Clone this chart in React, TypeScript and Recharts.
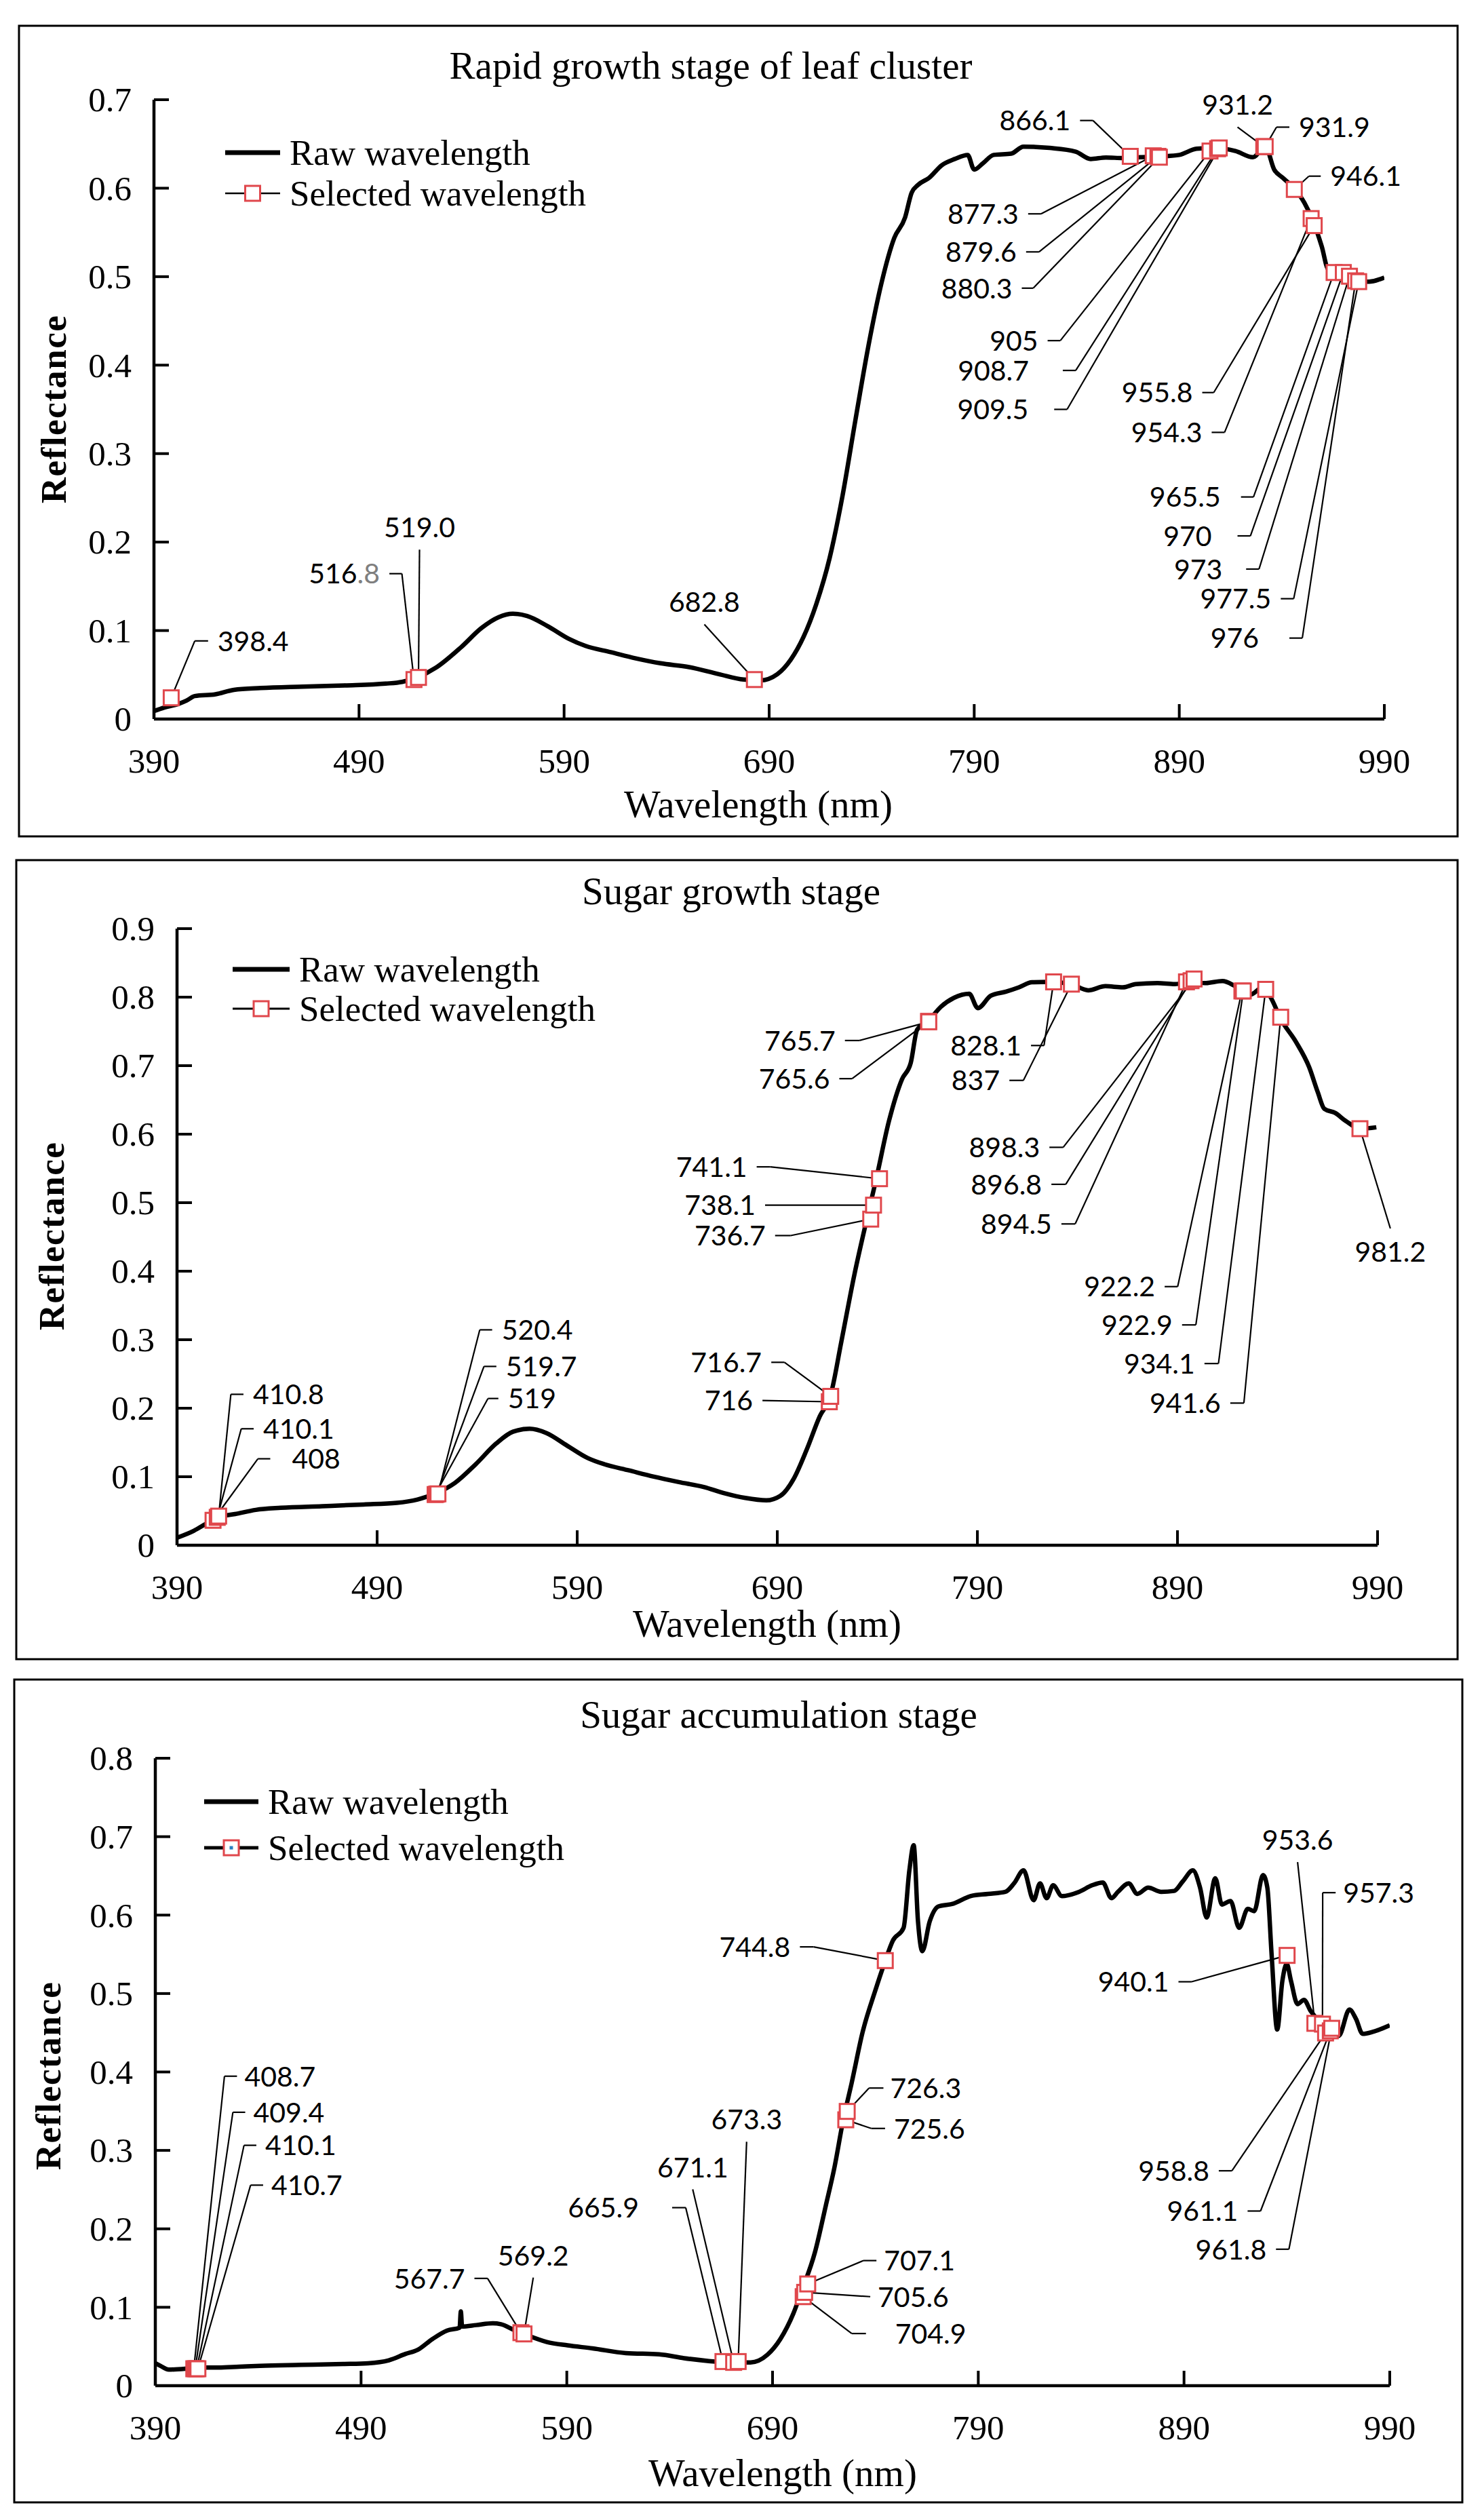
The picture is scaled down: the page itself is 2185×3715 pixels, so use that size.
import React from 'react';
import { ComposedChart, Line, XAxis, YAxis, ReferenceLine, ReferenceDot } from 'recharts';

type Pt = [number, number];
type Sel = [string, number];
type Callout = {
  label: string;
  ex: number;
  ey: number;
  sx?: number;
  pos: 'left' | 'right' | 'top' | 'bottom';
  gap?: number;
  dim?: number;
};

const PAGE_W = 2185;
const PAGE_H = 3715;
const X_AXIS_H = 100;
const Y_AXIS_W = 100;
const RED = '#e0474c';
const SERIF = "'Liberation Serif', 'DejaVu Serif', serif";
const SANS = "Lato, 'Liberation Sans', sans-serif";

const wavelengthTicks = [390, 490, 590, 690, 790, 890, 990];
const ticks07 = [0, 0.1, 0.2, 0.3, 0.4, 0.5, 0.6, 0.7];
const ticks09 = [0, 0.1, 0.2, 0.3, 0.4, 0.5, 0.6, 0.7, 0.8, 0.9];
const ticks08 = [0, 0.1, 0.2, 0.3, 0.4, 0.5, 0.6, 0.7, 0.8];

// ---- Rapid growth stage of leaf cluster ----
const raw1: Pt[] = [
  [390, 0.009], [395, 0.013], [401.8, 0.017], [406, 0.021], [409.9, 0.026], [420, 0.028],
  [429, 0.033], [442, 0.035], [462.6, 0.0366], [483, 0.038], [503, 0.04], [511, 0.042],
  [518.4, 0.047], [527.5, 0.058], [539.7, 0.081], [549.8, 0.103], [558, 0.115], [565, 0.119],
  [572, 0.1164], [582, 0.105], [592.4, 0.0906], [600.5, 0.0826], [612.7, 0.0756], [625, 0.0685],
  [637, 0.063], [651, 0.0587], [665.5, 0.0507], [677.6, 0.0446], [685.7, 0.0437], [694, 0.0507],
  [700.5, 0.067], [706.8, 0.093], [713, 0.13], [719.5, 0.182], [725.8, 0.2526], [732, 0.337],
  [738.4, 0.4216], [744.7, 0.492], [751, 0.5437], [756.3, 0.567], [759.5, 0.595], [762.6, 0.6037],
  [768, 0.6117], [774.2, 0.626], [780.5, 0.633], [786.8, 0.6376], [790, 0.621], [794.2, 0.628],
  [799.5, 0.6376], [808, 0.639], [814, 0.647], [826.8, 0.6455], [839.5, 0.6413], [846.8, 0.633],
  [854.2, 0.6347], [862.6, 0.634], [871, 0.635], [881.6, 0.636], [890, 0.6376], [898.4, 0.6446],
  [906.8, 0.6455], [917.4, 0.642], [925.9, 0.635], [932, 0.647], [936.3, 0.621], [940.5, 0.6117],
  [946.8, 0.5977], [951, 0.5836], [955.3, 0.5624], [959.5, 0.534], [962.6, 0.5085], [970, 0.5037],
  [976.3, 0.4944], [982.6, 0.4944], [990, 0.499],
];

const sel1: Sel[] = [
  ['398.4', 0.024], ['516.8', 0.0446], ['519.0', 0.047], ['682.8', 0.0446], ['866.1', 0.636],
  ['877.3', 0.6366], ['879.6', 0.636], ['880.3', 0.635], ['905', 0.642], ['908.7', 0.6446],
  ['909.5', 0.6455], ['931.2', 0.647], ['931.9', 0.647], ['946.1', 0.5986], ['954.3', 0.5657],
  ['955.8', 0.5577], ['965.5', 0.5047], ['970', 0.5047], ['973', 0.5005], ['976', 0.4953],
  ['977.5', 0.4944],
];

const callouts1: Callout[] = [
  { label: '398.4', ex: 409.9, ey: 0.0883, sx: 416.4, pos: 'right' },
  { label: '516.8', ex: 510.9, ey: 0.1643, sx: 504.8, pos: 'left', dim: 2 },
  { label: '519.0', ex: 519.5, ey: 0.1915, pos: 'top' },
  { label: '682.8', ex: 658.4, ey: 0.107, pos: 'top' },
  { label: '866.1', ex: 847.9, ey: 0.6765, sx: 841.6, pos: 'left' },
  { label: '877.3', ex: 822.6, ey: 0.571, sx: 816.3, pos: 'left' },
  { label: '879.6', ex: 821.6, ey: 0.528, sx: 815.3, pos: 'left' },
  { label: '880.3', ex: 818.8, ey: 0.487, sx: 813.2, pos: 'left' },
  { label: '905', ex: 832, ey: 0.4277, sx: 825.8, pos: 'left' },
  { label: '908.7', ex: 839.5, ey: 0.394, sx: 833.2, pos: 'left', gap: 50 },
  { label: '909.5', ex: 835.3, ey: 0.35, sx: 829, pos: 'left', gap: 38 },
  { label: '931.2', ex: 918.4, ey: 0.669, pos: 'top' },
  { label: '931.9', ex: 937.4, ey: 0.669, sx: 943.7, pos: 'right' },
  { label: '946.1', ex: 953.2, ey: 0.6136, sx: 959, pos: 'right' },
  { label: '955.8', ex: 906.8, ey: 0.369, sx: 901.2, pos: 'left' },
  { label: '954.3', ex: 912.1, ey: 0.324, sx: 905.8, pos: 'left' },
  { label: '965.5', ex: 926.2, ey: 0.251, sx: 920.1, pos: 'left', gap: 30 },
  { label: '970', ex: 924.7, ey: 0.207, sx: 918.4, pos: 'left', gap: 38 },
  { label: '973', ex: 928.9, ey: 0.1695, sx: 922.6, pos: 'left', gap: 35 },
  { label: '977.5', ex: 945.8, ey: 0.136, sx: 939.5, pos: 'left' },
  { label: '976', ex: 950, ey: 0.0915, sx: 943.7, pos: 'left', gap: 45 },
];

// ---- Sugar growth stage ----
const raw2: Pt[] = [
  [390, 0.011], [398.3, 0.021], [405.5, 0.033], [410.7, 0.041], [419, 0.0455], [429.4, 0.0516],
  [441.8, 0.0546], [462.5, 0.057], [483.3, 0.0595], [499.8, 0.0619], [510.2, 0.0668], [519.5, 0.0759],
  [528.9, 0.091], [539.2, 0.118], [549.6, 0.1487], [557.9, 0.1657], [566.2, 0.17], [574.5, 0.1639],
  [584.8, 0.1457], [595.2, 0.1274], [603.5, 0.1183], [615.9, 0.1092], [628.3, 0.1001], [640.8, 0.0922],
  [653.2, 0.085], [663.6, 0.0759], [674, 0.069], [684.5, 0.0655], [691.5, 0.072], [698.2, 0.097],
  [704.7, 0.1396], [711.2, 0.188], [716.6, 0.2185], [722, 0.297], [728.5, 0.3945], [735, 0.479],
  [739.4, 0.534], [745.8, 0.619], [752.3, 0.68], [756.7, 0.704], [759.9, 0.7525], [765.3, 0.7647],
  [771.8, 0.786], [778.3, 0.799], [785.9, 0.805], [790.2, 0.784], [796.7, 0.802], [804.3, 0.808],
  [810.8, 0.8144], [817.3, 0.8217], [825.9, 0.8223], [836.8, 0.819], [845.4, 0.81], [854, 0.816],
  [862.7, 0.8144], [869.2, 0.819], [880, 0.8205], [888.7, 0.819], [897.4, 0.8223], [903.8, 0.8205],
  [912.5, 0.8235], [919, 0.816], [926.6, 0.804], [932, 0.813], [936.3, 0.801], [941.7, 0.7677],
  [949.3, 0.7343], [955.8, 0.698], [960.1, 0.6615], [963.4, 0.637], [968.8, 0.631], [974.2, 0.619],
  [981.8, 0.608], [989.4, 0.61],
];

const sel2: Sel[] = [
  ['408', 0.0364], ['410.1', 0.0407], ['410.8', 0.0425], ['519', 0.074], ['519.7', 0.0745],
  ['520.4', 0.075], ['716', 0.2094], ['716.7', 0.2173], ['736.7', 0.476], ['738.1', 0.4964],
  ['741.1', 0.535], ['765.6', 0.7647], ['765.7', 0.764], ['828.1', 0.8223], ['837', 0.819],
  ['894.5', 0.8223], ['896.8', 0.824], ['898.3', 0.8265], ['922.2', 0.809], ['922.9', 0.809],
  ['934.1', 0.8114], ['941.6', 0.7707], ['981.2', 0.608],
];

const callouts2: Callout[] = [
  { label: '408', ex: 430.4, ey: 0.1262, sx: 436.6, pos: 'right', gap: 32 },
  { label: '410.1', ex: 422.1, ey: 0.17, sx: 428.3, pos: 'right' },
  { label: '410.8', ex: 416.9, ey: 0.2203, sx: 423.2, pos: 'right' },
  { label: '519', ex: 545.4, ey: 0.2142, sx: 550.6, pos: 'right' },
  { label: '519.7', ex: 543.4, ey: 0.261, sx: 549.6, pos: 'right' },
  { label: '520.4', ex: 541.3, ey: 0.3144, sx: 547.5, pos: 'right' },
  { label: '716', ex: 682.6, ey: 0.2112, pos: 'left' },
  { label: '716.7', ex: 693.6, ey: 0.267, sx: 687, pos: 'left' },
  { label: '736.7', ex: 696.7, ey: 0.452, sx: 688.9, pos: 'left' },
  { label: '738.1', ex: 683.9, ey: 0.4964, pos: 'left' },
  { label: '741.1', ex: 686.4, ey: 0.5523, sx: 679.7, pos: 'left' },
  { label: '765.6', ex: 727.4, ey: 0.681, sx: 721, pos: 'left' },
  { label: '765.7', ex: 731.1, ey: 0.7367, sx: 723.8, pos: 'left' },
  { label: '828.1', ex: 823.3, ey: 0.7294, sx: 816.8, pos: 'left' },
  { label: '837', ex: 813, ey: 0.6785, sx: 806, pos: 'left' },
  { label: '898.3', ex: 832.9, ey: 0.5808, sx: 826, pos: 'left' },
  { label: '896.8', ex: 834.2, ey: 0.5268, sx: 827, pos: 'left' },
  { label: '894.5', ex: 838.9, ey: 0.469, sx: 832, pos: 'left' },
  { label: '922.2', ex: 890.1, ey: 0.3775, sx: 883.6, pos: 'left' },
  { label: '922.9', ex: 899.2, ey: 0.3216, sx: 892.3, pos: 'left' },
  { label: '934.1', ex: 910.5, ey: 0.2652, sx: 903.5, pos: 'left' },
  { label: '941.6', ex: 923.2, ey: 0.2075, sx: 916.4, pos: 'left' },
  { label: '981.2', ex: 996.4, ey: 0.4624, pos: 'bottom' },
];

// ---- Sugar accumulation stage ----
const raw3: Pt[] = [
  [390, 0.0286], [392.4, 0.0254], [396.5, 0.0205], [404.5, 0.0216], [410.6, 0.0232], [420.7, 0.0232],
  [430.8, 0.0243], [441, 0.0254], [461, 0.0265], [481.3, 0.0276], [493.4, 0.0286], [503.5, 0.0324],
  [511.6, 0.0405], [517.7, 0.046], [524.7, 0.0595], [531.8, 0.0703], [537.9, 0.074], [538.5, 0.0946],
  [539.1, 0.0755], [546, 0.0773], [554, 0.0795], [558, 0.0784], [564.1, 0.0714], [570.2, 0.0649],
  [580.3, 0.0557], [590.4, 0.0514], [602.5, 0.0476], [618.7, 0.0416], [634.9, 0.04], [647, 0.0351],
  [659.1, 0.0314], [667.2, 0.0297], [679.3, 0.0297], [687.5, 0.0395], [693.8, 0.0595], [700.1, 0.0919],
  [704.3, 0.1216], [710.6, 0.17], [715.9, 0.2297], [720.1, 0.2784], [724.3, 0.338], [728.5, 0.3865],
  [733.8, 0.451], [740.1, 0.505], [744.3, 0.538], [748.5, 0.5676], [753.7, 0.5838], [756.5, 0.657],
  [758.6, 0.689], [760.7, 0.592], [762.8, 0.554], [766.4, 0.592], [770.6, 0.611], [777.9, 0.6146],
  [786.4, 0.6243], [794.8, 0.627], [803.2, 0.6297], [807.4, 0.6405], [812, 0.657], [816.9, 0.619],
  [820, 0.6405], [823.2, 0.6216], [826.4, 0.638], [830.6, 0.6243], [839, 0.6297], [845.3, 0.638],
  [850.5, 0.6416], [854.7, 0.6216], [857.9, 0.6297], [863.1, 0.6405], [867.3, 0.627], [872.6, 0.635],
  [878.9, 0.6297], [885.2, 0.6308], [889.4, 0.643], [894.3, 0.657], [897.8, 0.635], [901, 0.597],
  [905.2, 0.647], [908.4, 0.6135], [912.6, 0.618], [916.8, 0.5838], [921, 0.608], [924.1, 0.605],
  [928.4, 0.651], [930.5, 0.635], [932.6, 0.5486], [935.3, 0.454], [937.8, 0.516], [939.9, 0.538],
  [942, 0.516], [945.2, 0.4865], [948.3, 0.492], [951.5, 0.478], [955.7, 0.465], [959.9, 0.4568],
  [965.2, 0.446], [970.4, 0.4795], [973.6, 0.4676], [976.8, 0.4486], [982, 0.4514], [990, 0.4595],
];

const sel3: Sel[] = [
  ['408.7', 0.0216], ['409.4', 0.0216], ['410.1', 0.0216], ['410.7', 0.0216], ['567.7', 0.0676],
  ['569.2', 0.066], ['665.9', 0.0308], ['671.1', 0.0297], ['673.3', 0.0308], ['704.9', 0.1135],
  ['705.6', 0.119], ['707.1', 0.1297], ['725.6', 0.339], ['726.3', 0.3497], ['744.8', 0.542],
  ['940.1', 0.5486], ['953.6', 0.462], ['957.3', 0.461], ['958.8', 0.4497], ['961.1', 0.4524],
  ['961.8', 0.4557],
];

const callouts3: Callout[] = [
  { label: '408.7', ex: 423.6, ey: 0.3946, sx: 429.7, pos: 'right', gap: 11 },
  { label: '409.4', ex: 427.7, ey: 0.3486, sx: 433.7, pos: 'right', gap: 12 },
  { label: '410.1', ex: 433.1, ey: 0.3065, sx: 439.1, pos: 'right', gap: 13 },
  { label: '410.7', ex: 436.3, ey: 0.2557, sx: 442.4, pos: 'right', gap: 12 },
  { label: '567.7', ex: 551.5, ey: 0.1368, sx: 545.1, pos: 'left' },
  { label: '569.2', ex: 573.7, ey: 0.1378, pos: 'top' },
  { label: '665.9', ex: 647.8, ey: 0.227, sx: 641.2, pos: 'left', gap: 49 },
  { label: '671.1', ex: 651.2, ey: 0.2503, pos: 'top' },
  { label: '673.3', ex: 677.4, ey: 0.311, pos: 'top' },
  { label: '704.9', ex: 728.5, ey: 0.0665, sx: 735.4, pos: 'right', gap: 43 },
  { label: '705.6', ex: 737.5, ey: 0.1135, pos: 'right', gap: 11 },
  { label: '707.1', ex: 734.2, ey: 0.1595, sx: 740.5, pos: 'right', gap: 11 },
  { label: '725.6', ex: 738, ey: 0.328, sx: 744.7, pos: 'right', gap: 13 },
  { label: '726.3', ex: 736.9, ey: 0.3795, sx: 743.9, pos: 'right', gap: 10 },
  { label: '744.8', ex: 710, ey: 0.5595, sx: 703.3, pos: 'left' },
  { label: '940.1', ex: 893.7, ey: 0.515, sx: 887.3, pos: 'left' },
  { label: '953.6', ex: 945.2, ey: 0.6676, pos: 'top' },
  { label: '957.3', ex: 957.4, ey: 0.6286, sx: 963.7, pos: 'right', gap: 11 },
  { label: '958.8', ex: 913.3, ey: 0.274, sx: 906.9, pos: 'left' },
  { label: '961.1', ex: 927.2, ey: 0.2227, sx: 920.9, pos: 'left' },
  { label: '961.8', ex: 941, ey: 0.174, sx: 934.7, pos: 'left' },
];

// page layout of the three panels (pixels)
const panels = [
  {
    title: 'Rapid growth stage of leaf cluster',
    raw: raw1, sel: sel1, callouts: callouts1, yMax: 0.7, yTicks: ticks07,
    box: { l: 28, t: 38, r: 2149, b: 1233 },
    plot: { l: 227, t: 147, r: 2041, b: 1060 },
    titlePos: [1048, 116], xTitlePos: [1118, 1205], yTitlePos: [78, 603],
    legend: { x0: 332, x1: 413, tx: 427, y1: 225, y2: 285, selW: 2.5, dot: false },
  },
  {
    title: 'Sugar growth stage',
    raw: raw2, sel: sel2, callouts: callouts2, yMax: 0.9, yTicks: ticks09,
    box: { l: 24, t: 1268, r: 2149, b: 2446 },
    plot: { l: 261, t: 1369, r: 2031, b: 2278 },
    titlePos: [1078, 1333], xTitlePos: [1131, 2413], yTitlePos: [75, 1822],
    legend: { x0: 343, x1: 427, tx: 441, y1: 1429, y2: 1487, selW: 3, dot: false },
  },
  {
    title: 'Sugar accumulation stage',
    raw: raw3, sel: sel3, callouts: callouts3, yMax: 0.8, yTicks: ticks08,
    box: { l: 21, t: 2476, r: 2156, b: 3689 },
    plot: { l: 229, t: 2592, r: 2049, b: 3517 },
    titlePos: [1148, 2547], xTitlePos: [1154, 3665], yTitlePos: [70, 3060],
    legend: { x0: 301, x1: 381, tx: 395, y1: 2656, y2: 2724, selW: 5, dot: true },
  },
];

const XTick = (props: any) => {
  const { x, y, payload } = props;
  return (
    <g>
      <line x1={x} y1={y} x2={x} y2={y - 22} stroke="#000" strokeWidth={4} />
      <text x={x} y={y + 79} textAnchor="middle" fontFamily={SERIF} fontSize={51} fill="#000">
        {payload.value}
      </text>
    </g>
  );
};

const YTick = (props: any) => {
  const { x, y, payload } = props;
  return (
    <g>
      <line x1={x} y1={y} x2={x + 22} y2={y} stroke="#000" strokeWidth={4} />
      <text x={x - 33} y={y} dy="0.34em" textAnchor="end" fontFamily={SERIF} fontSize={51} fill="#000">
        {payload.value}
      </text>
    </g>
  );
};

const renderSquare = (props: any) => {
  const { cx, cy, index } = props;
  if (cx == null || cy == null) return <g key={index} />;
  return (
    <rect key={index} x={cx - 11} y={cy - 11} width={22} height={22}
      fill="#fff" stroke={RED} strokeWidth={3} />
  );
};

const CalloutText = ({ cx, cy, c }: { cx: number; cy: number; c: Callout }) => {
  const gap = c.gap ?? 14;
  let x = cx;
  let y = cy;
  let anchor: 'start' | 'middle' | 'end' = 'middle';
  let dy: string | number = '0.36em';
  if (c.pos === 'left') { x = cx - gap; anchor = 'end'; }
  else if (c.pos === 'right') { x = cx + gap; anchor = 'start'; }
  else if (c.pos === 'top') { y = cy - 18; dy = 0; }
  else { y = cy + 20; dy = '0.72em'; }
  const head = c.dim ? c.label.slice(0, c.label.length - c.dim) : c.label;
  const tail = c.dim ? c.label.slice(c.label.length - c.dim) : '';
  return (
    <text x={x} y={y} dy={dy} textAnchor={anchor} fontFamily={SANS} fontSize={41} fill="#000">
      <tspan>{head}</tspan>
      {tail && <tspan fill="#7f7f7f">{tail}</tspan>}
    </text>
  );
};

function calloutElements(sel: Sel[], callouts: Callout[]) {
  const out: React.ReactNode[] = [];
  callouts.forEach((c, i) => {
    const s = sel.find((d) => d[0] === c.label);
    if (!s) return;
    const w = Number(s[0]);
    const r = s[1];
    out.push(
      <ReferenceLine key={`lead-${i}`} segment={[{ x: w, y: r }, { x: c.ex, y: c.ey }]}
        stroke="#000" strokeWidth={2.2} ifOverflow="visible" />
    );
    if (c.sx !== undefined) {
      out.push(
        <ReferenceLine key={`stub-${i}`} segment={[{ x: c.ex, y: c.ey }, { x: c.sx, y: c.ey }]}
          stroke="#000" strokeWidth={2.2} ifOverflow="visible" />
      );
    }
    out.push(
      <ReferenceDot key={`txt-${i}`} x={c.sx ?? c.ex} y={c.ey} r={0} ifOverflow="visible"
        fill="none" stroke="none"
        shape={(sp: any) => <CalloutText cx={sp.cx} cy={sp.cy} c={c} />} />
    );
  });
  return out;
}

function SpectrumChart({ p }: { p: (typeof panels)[number] }) {
  const rawData = p.raw.map(([w, r]) => ({ w, r }));
  const selData = p.sel.map(([label, r]) => ({ w: Number(label), r }));
  const chartH = p.box.b - p.box.t;
  const margin = {
    top: p.plot.t - p.box.t,
    bottom: p.box.b - p.plot.b - X_AXIS_H,
    left: p.plot.l - Y_AXIS_W,
    right: PAGE_W - p.plot.r,
  };
  return (
    <div style={{ position: 'absolute', left: 0, top: p.box.t, width: PAGE_W, height: chartH }}>
      <ComposedChart width={PAGE_W} height={chartH} margin={margin}>
        <XAxis dataKey="w" type="number" domain={[390, 990]} ticks={wavelengthTicks} interval={0}
          tickSize={0} tickMargin={0} tickLine={false} height={X_AXIS_H} allowDataOverflow
          axisLine={{ stroke: '#000', strokeWidth: 4.5 }} tick={(tp: any) => <XTick {...tp} />} />
        <YAxis type="number" domain={[0, p.yMax]} ticks={p.yTicks} interval={0}
          tickSize={0} tickMargin={0} tickLine={false} width={Y_AXIS_W} allowDataOverflow
          axisLine={{ stroke: '#000', strokeWidth: 4.5 }} tick={(tp: any) => <YTick {...tp} />} />
        <Line data={rawData} dataKey="r" type="monotone" stroke="#000" strokeWidth={6.5}
          strokeLinejoin="round" dot={false} activeDot={false} isAnimationActive={false} legendType="none" />
        {calloutElements(p.sel, p.callouts)}
        <Line data={selData} dataKey="r" stroke="none" dot={renderSquare} activeDot={false}
          isAnimationActive={false} legendType="none" />
      </ComposedChart>
    </div>
  );
}

function PanelDecor({ p }: { p: (typeof panels)[number] }) {
  const lg = p.legend;
  const sqX = (lg.x0 + lg.x1) / 2;
  return (
    <g>
      <rect x={p.box.l} y={p.box.t} width={p.box.r - p.box.l} height={p.box.b - p.box.t}
        fill="none" stroke="#000" strokeWidth={3} />
      <text x={p.titlePos[0]} y={p.titlePos[1]} textAnchor="middle" fontFamily={SERIF} fontSize={57}>
        {p.title}
      </text>
      <text x={p.xTitlePos[0]} y={p.xTitlePos[1]} textAnchor="middle" fontFamily={SERIF} fontSize={57}>
        Wavelength (nm)
      </text>
      <text x={p.yTitlePos[0]} y={p.yTitlePos[1]} dy="0.35em" textAnchor="middle" fontFamily={SERIF}
        fontSize={53} fontWeight="bold" letterSpacing={1.5}
        transform={`rotate(-90 ${p.yTitlePos[0]} ${p.yTitlePos[1]})`}>
        Reflectance
      </text>
      <line x1={lg.x0} y1={lg.y1} x2={lg.x1} y2={lg.y1} stroke="#000" strokeWidth={7} />
      <text x={lg.tx} y={lg.y1 + 18} fontFamily={SERIF} fontSize={53}>Raw wavelength</text>
      <line x1={lg.x0} y1={lg.y2} x2={lg.x1} y2={lg.y2} stroke="#000" strokeWidth={lg.selW} />
      <rect x={sqX - 11} y={lg.y2 - 11} width={22} height={22} fill="#fff" stroke={RED} strokeWidth={3} />
      {lg.dot && <rect x={sqX - 2.5} y={lg.y2 - 2.5} width={5} height={5} fill="#2a7fc0" />}
      <text x={lg.tx} y={lg.y2 + 18} fontFamily={SERIF} fontSize={53}>Selected wavelength</text>
    </g>
  );
}

export default function App() {
  return (
    <div style={{ position: 'absolute', left: 0, top: 0, width: PAGE_W, height: PAGE_H, background: '#fff' }}>
      {panels.map((p, i) => (
        <SpectrumChart key={i} p={p} />
      ))}
      <svg width={PAGE_W} height={PAGE_H}
        style={{ position: 'absolute', left: 0, top: 0, pointerEvents: 'none' }}>
        {panels.map((p, i) => (
          <PanelDecor key={i} p={p} />
        ))}
      </svg>
    </div>
  );
}
